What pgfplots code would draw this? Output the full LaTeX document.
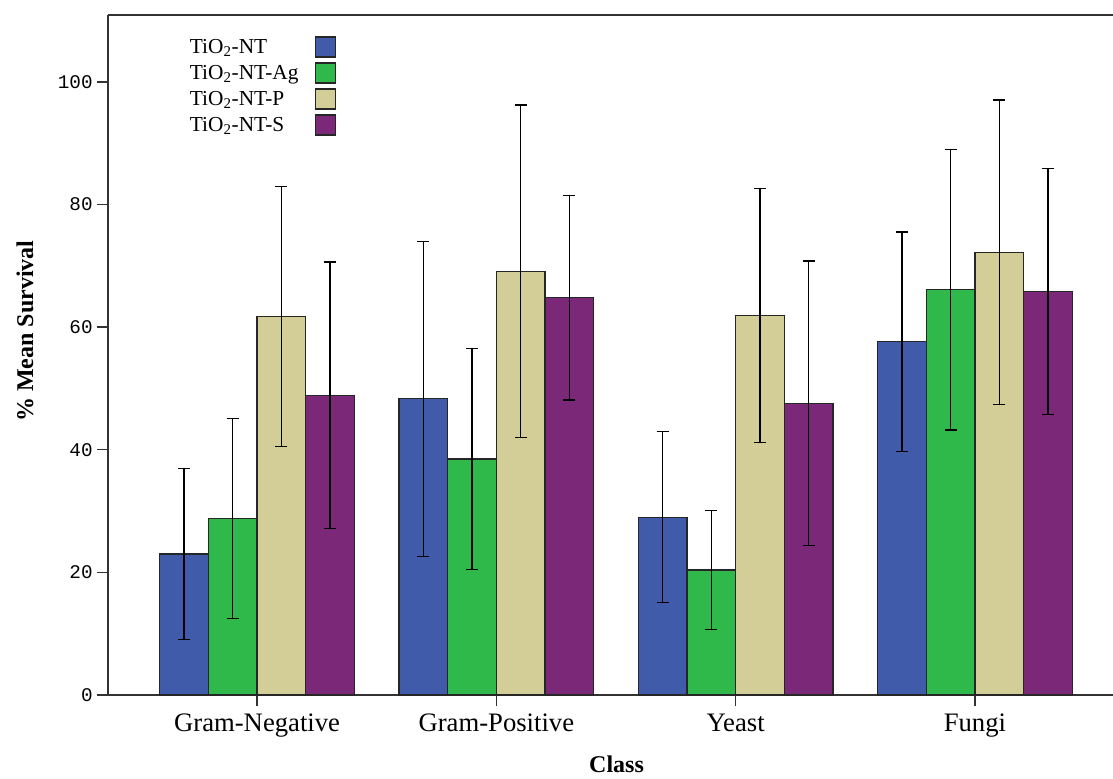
\documentclass[border=0pt]{standalone}
\usepackage{fontspec}
\setmainfont{Liberation Serif}
\newfontfamily\tickfont{Liberation Mono}
\usepackage{pgfplots}
\pgfplotsset{compat=1.18}
\definecolor{cblue}{HTML}{3F5BAA}
\definecolor{cgreen}{HTML}{2FB94A}
\definecolor{cyellow}{HTML}{D3CE98}
\definecolor{cpurple}{HTML}{7B2879}
\definecolor{axgray}{HTML}{333333}
\begin{document}
\begin{tikzpicture}
\begin{axis}[
  scale only axis, width=753.75pt, height=510pt,
  xmin=-0.623, xmax=3.577, ymin=0, ymax=110.9,
  ybar=0pt, bar width=0.2035,
  axis x line*=box, axis y line*=left,
  x axis line style={-}, y axis line style={-},
  axis line style={axgray, line width=1.1pt},
  xtick={0,1,2,3}, xticklabels={Gram-Negative,Gram-Positive,Yeast,Fungi},
  ytick={0,20,40,60,80,100}, yticklabels={0,20,40,60,80,100},
  xtick pos=bottom, ytick pos=left,
  tick align=outside, major tick length=8pt,
  tick style={axgray, line width=1.1pt},
  xticklabel style={font=\fontsize{20}{23}\selectfont, yshift=-2.5pt},
  yticklabel style={font=\tickfont\fontsize{14.5}{17}\selectfont},
  xlabel={Class}, ylabel={\% Mean Survival},
  xlabel style={font=\bfseries\fontsize{18}{21}\selectfont, at={(axis description cs:0.506,-0.1015)}, anchor=center},
  ylabel style={font=\bfseries\fontsize{18}{21}\selectfont, at={(axis description cs:-0.0826,0.535)}, anchor=center},
  legend style={draw=none, fill=none, at={(axis description cs:0.0786,0.969)}, anchor=north west,
    font=\fontsize{16}{18}\selectfont, row sep=3.4pt, column sep=10.5pt, inner sep=0pt},
  legend plot pos=right, legend cell align=left,
  legend image code/.code={\draw[#1, draw=black!85, line width=0.9pt] (0pt,-7.5pt) rectangle (15pt,7.5pt);},
  error bars/y dir=both, error bars/y explicit,
  error bars/error bar style={black, line width=1pt},
  error bars/error mark options={black, mark size=4.5pt, line width=1pt, rotate=90},
]
\addplot[fill=cblue, draw=black!85, line width=0.9pt] coordinates {(0,23.0) +- (0,13.9) (1,48.3) +- (0,25.7) (2,29.0) +- (0,13.95) (3,57.6) +- (0,17.9)};
\addplot[fill=cgreen, draw=black!85, line width=0.9pt] coordinates {(0,28.8) +- (0,16.3) (1,38.5) +- (0,18.0) (2,20.4) +- (0,9.7) (3,66.1) +- (0,22.9)};
\addplot[fill=cyellow, draw=black!85, line width=0.9pt] coordinates {(0,61.7) +- (0,21.2) (1,69.1) +- (0,27.1) (2,61.9) +- (0,20.7) (3,72.2) +- (0,24.85)};
\addplot[fill=cpurple, draw=black!85, line width=0.9pt] coordinates {(0,48.9) +- (0,21.7) (1,64.8) +- (0,16.7) (2,47.6) +- (0,23.2) (3,65.8) +- (0,20.1)};
\legend{TiO\textsubscript{2}-NT, TiO\textsubscript{2}-NT-Ag, TiO\textsubscript{2}-NT-P, TiO\textsubscript{2}-NT-S}
\end{axis}
\pgfresetboundingbox
\path[use as bounding box] (-81pt,-62.25pt) rectangle (753.75pt,521.25pt);
\end{tikzpicture}
\end{document}
